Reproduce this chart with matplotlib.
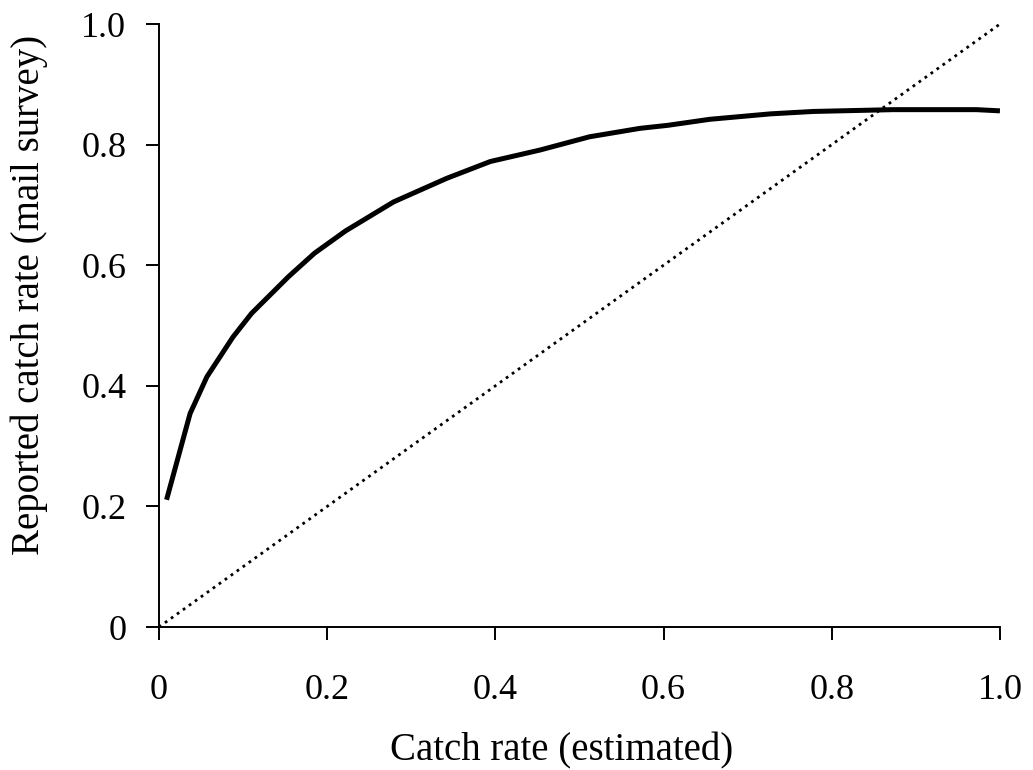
import numpy as np
import matplotlib
matplotlib.use("Agg")
import matplotlib.pyplot as plt

# curve: estimated catch rate vs reported (mail survey)
est_rate = [0.009, 0.037, 0.057, 0.088, 0.110, 0.154, 0.185, 0.222, 0.279, 0.342,
            0.394, 0.453, 0.512, 0.572, 0.605, 0.655, 0.727, 0.778, 0.873, 0.972, 1.0]
reported_rate = [0.211, 0.354, 0.415, 0.481, 0.520, 0.581, 0.620, 0.657, 0.705, 0.744,
                 0.772, 0.791, 0.813, 0.827, 0.832, 0.842, 0.851, 0.855, 0.858, 0.858, 0.856]

# 1:1 reference line
ref_x = [0.0, 1.0]
ref_y = [0.0, 1.0]

ticks = [0, 0.2, 0.4, 0.6, 0.8, 1.0]
tick_labels = ["0", "0.2", "0.4", "0.6", "0.8", "1.0"]

plt.rcParams['font.family'] = ['Liberation Serif', 'DejaVu Serif']

fig = plt.figure(figsize=(10.33, 7.70), dpi=100)
ax = fig.add_axes([0.1539, 0.1857, 0.8141, 0.7831])

ax.plot(est_rate, reported_rate, color='black', linewidth=3.6, solid_capstyle='butt')
ax.plot(ref_x, ref_y, color='black', linewidth=2.0, linestyle=':')

ax.set_xlim(0, 1.0)
ax.set_ylim(0, 1.0)
ax.set_xticks(ticks)
ax.set_xticklabels(tick_labels)
ax.set_yticks(ticks)
ax.set_yticklabels(tick_labels)

for side in ['top', 'right']:
    ax.spines[side].set_visible(False)
for side in ['left', 'bottom']:
    ax.spines[side].set_linewidth(1.4)

ax.tick_params(axis='both', direction='out', length=9.5, width=1.4, labelsize=26)
ax.tick_params(axis='x', pad=24)
ax.tick_params(axis='y', pad=14)

ax.set_xlabel('Catch rate (estimated)', fontsize=28, labelpad=12)
ax.xaxis.set_label_coords(0.479, -0.175)
ax.set_ylabel('Reported catch rate (mail survey)', fontsize=28)
ax.yaxis.set_label_coords(-0.132, 0.55)

fig.savefig('out.png', dpi=100)
